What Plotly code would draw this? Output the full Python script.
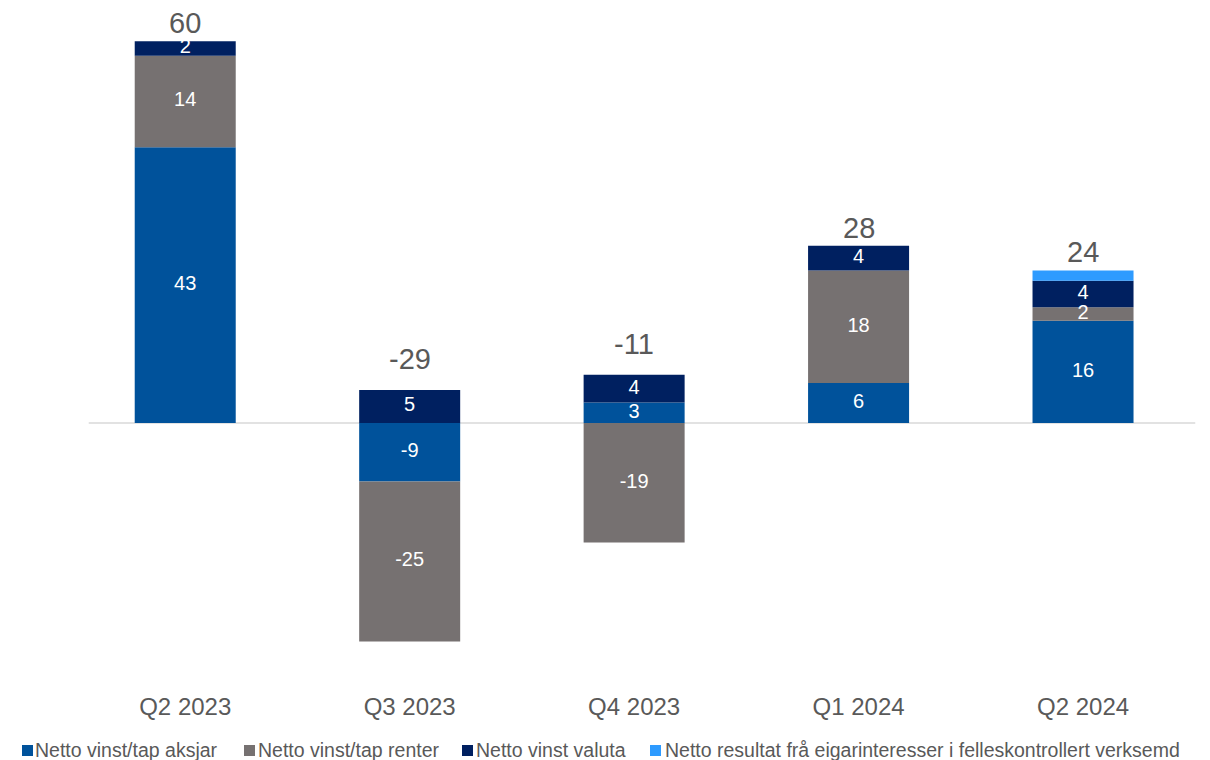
import plotly.graph_objects as go
import numpy as np

categories = ["Q2 2023", "Q3 2023", "Q4 2023", "Q1 2024", "Q2 2024"]
series_names = [
    "Netto vinst/tap aksjar",
    "Netto vinst/tap renter",
    "Netto vinst valuta",
    "Netto resultat frå eigarinteresser i felleskontrollert verksemd",
]
aksjar = [43.4, -9.2, 3.2, 6.3, 16.1]
renter = [14.4, -25.2, -18.8, 17.7, 2.1]
valuta = [2.3, 5.2, 4.4, 3.9, 4.2]
eigar = [0.0, 0.0, 0.0, 0.0, 1.6]
colors = ["#00529B", "#767171", "#002060", "#2E9BFF"]
show_label = [True, True, True, False]

series = [aksjar, renter, valuta, eigar]

FONT = "Liberation Sans, Arial, sans-serif"
W, H = 1210, 760
ML, MR, MT, MB = 65, 22, 2, 110
PW, PH = W - ML - MR, H - MT - MB
OFF = 8  # page body margin offset


def px_x(px):
    return (px - OFF - ML) / PW


def px_y(py):
    return (H - MB - (py - OFF)) / PH


fig = go.Figure()
for name, vals, col in zip(series_names, series, colors):
    fig.add_trace(go.Bar(
        x=categories, y=vals, name=name, marker=dict(color=col, line=dict(width=0)),
        width=0.45, hoverinfo="skip", showlegend=False,
    ))

# segment label positions computed from the data (relative stacking)
pos_base = np.zeros(len(categories))
neg_base = np.zeros(len(categories))
for vals, lab in zip(series, show_label):
    v = np.array(vals, dtype=float)
    centers = np.where(v >= 0, pos_base + v / 2, neg_base + v / 2)
    pos_base = pos_base + np.where(v > 0, v, 0)
    neg_base = neg_base + np.where(v < 0, v, 0)
    if lab:
        mask = v != 0
        fig.add_trace(go.Scatter(
            x=[c for c, m in zip(categories, mask) if m],
            y=centers[mask],
            text=[f"{x:.0f}" for x, m in zip(v, mask) if m],
            mode="text", textposition="middle center",
            textfont=dict(color="white", size=20, family=FONT),
            showlegend=False, hoverinfo="skip", cliponaxis=False,
        ))

totals = np.sum(np.array(series), axis=0)
for c, top, t in zip(categories, pos_base, totals):
    fig.add_annotation(
        x=c, y=top, text=f"{t:.0f}", showarrow=False, yanchor="bottom",
        yshift=1 if t >= 0 else 14, borderpad=0,
        font=dict(size=29, color="#595959", family=FONT),
    )

# zero baseline
fig.add_shape(
    type="line", xref="x", yref="y", x0=-0.43, x1=4.5, y0=0, y1=0,
    line=dict(color="#D9D9D9", width=1.5), layer="below",
)

# legend drawn as squares + text
legend_square_px = [22, 244, 462, 650]
legend_text_px = [34, 257, 475, 664]
for name, col, sx, tx in zip(series_names, colors, legend_square_px, legend_text_px):
    fig.add_shape(
        type="rect", xref="paper", yref="paper",
        x0=px_x(sx), x1=px_x(sx + 11), y0=px_y(756), y1=px_y(745),
        fillcolor=col, line=dict(width=0),
    )
    fig.add_annotation(
        xref="paper", yref="paper", x=px_x(tx), y=px_y(750),
        xanchor="left", yanchor="middle", showarrow=False, text=name,
        font=dict(size=19.5, color="#595959", family=FONT), borderpad=0,
    )

fig.update_layout(
    barmode="relative",
    width=W, height=H,
    margin=dict(l=ML, r=MR, t=MT, b=MB, autoexpand=False),
    plot_bgcolor="white", paper_bgcolor="white",
    font=dict(family=FONT, color="#595959"),
    showlegend=False,
)
fig.update_xaxes(
    showgrid=False, showline=False, zeroline=False, ticks="",
    tickfont=dict(size=24, color="#595959"), ticklabelstandoff=32,
    automargin=False,
)
fig.update_yaxes(
    range=[-37, 65], showgrid=False, showticklabels=False, zeroline=False,
    showline=False, automargin=False,
)

fig.write_html("out.html")
